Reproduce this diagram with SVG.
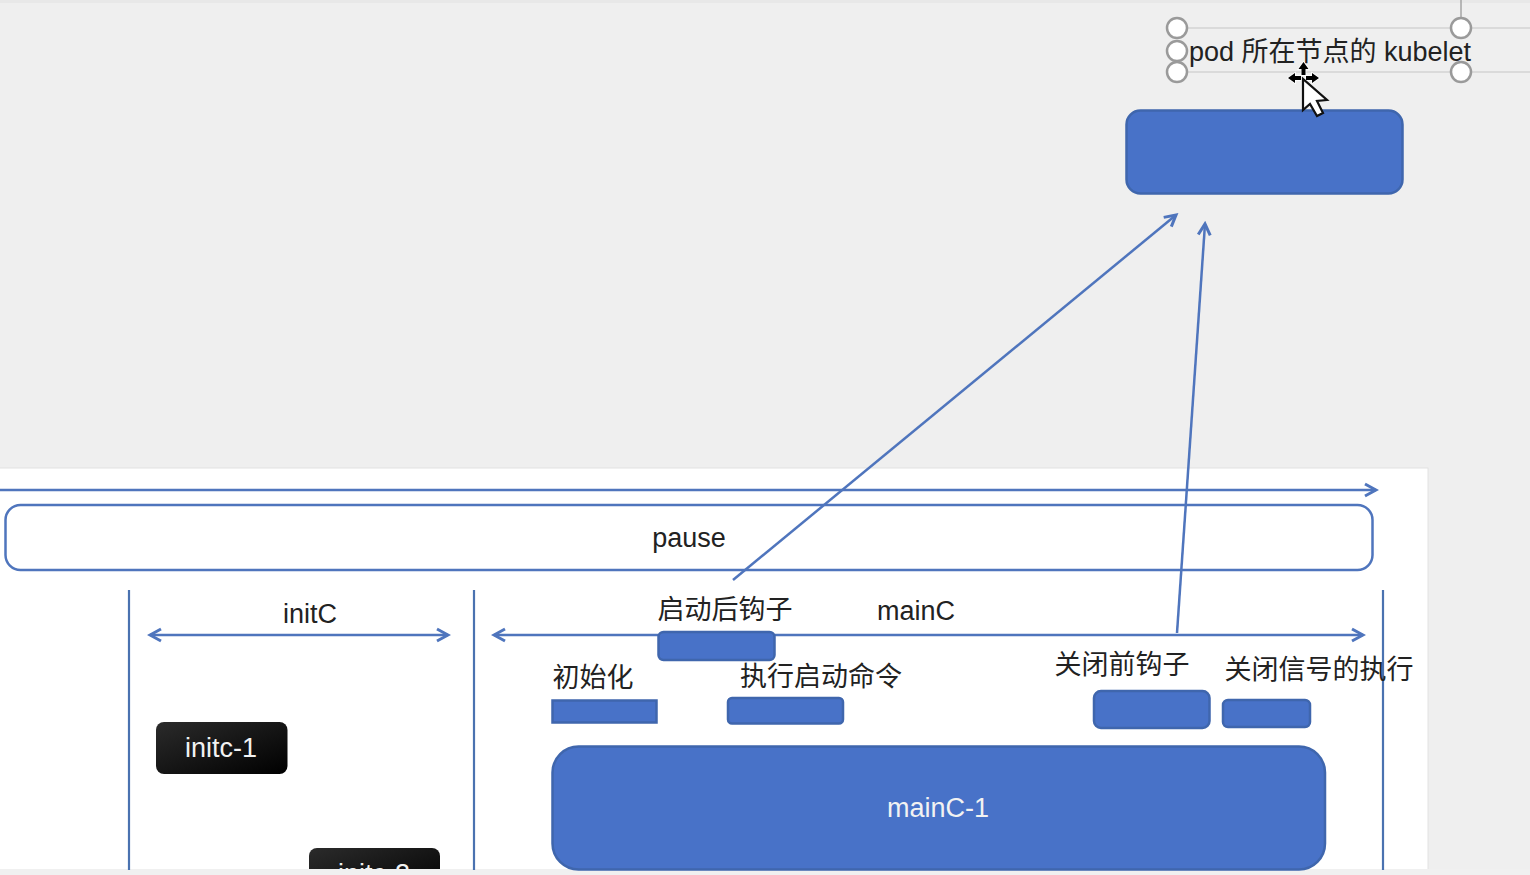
<svg xmlns="http://www.w3.org/2000/svg" width="1530" height="875" viewBox="0 0 1530 875">
<style>
text{font-family:"Liberation Sans","Noto Sans CJK SC",sans-serif;font-size:27px;fill:#222;text-anchor:middle}
.blue{fill:#4872c8;stroke:#3f66ad;stroke-width:2.500}
.ln{stroke:#4f75bd;stroke-width:2.500;fill:none}
.v{stroke:#4a72b0;stroke-width:2.200;fill:none}
.h{fill:#fff;stroke:#9a9a9a;stroke-width:2.500}
.g{stroke:#d4d4d4;stroke-width:1.300;fill:none}
.lt{fill:#f2f2f2}
</style>
<defs>
<marker id="a" markerUnits="userSpaceOnUse" markerWidth="16" markerHeight="16" refX="13" refY="7" orient="auto-start-reverse" viewBox="0 0 16 14"><path d="M2 1L13 7L2 13" fill="none" stroke="#4f75bd" stroke-width="3"/></marker>
<linearGradient id="k" x1="0" y1="0" x2="1" y2="1"><stop offset="0" stop-color="#2b2b2b"/><stop offset="1" stop-color="#000"/></linearGradient>
</defs>
<rect width="1530" height="875" fill="#efefef"/>
<rect width="1530" height="3" fill="#e8e8e8"/>
<rect x="-2" y="468" width="1430" height="402" fill="#fff" stroke="#e2e2e2"/>
<rect y="869" width="1530" height="6" fill="#f0f0f0"/>
<g id="selection">
<path class="g" d="M1177 28H1530M1177 72H1530"/>
<path d="M1461 0V28" stroke="#9a9a9a" stroke-width="1.300" fill="none"/>
<circle class="h" cx="1177" cy="28" r="10"/><circle class="h" cx="1177" cy="51" r="10"/><circle class="h" cx="1177" cy="72" r="10"/><circle class="h" cx="1461" cy="28" r="10"/><circle class="h" cx="1461" cy="72" r="10"/>
</g>
<g id="node-kubelet-label"><text x="1330" y="60.500" textLength="282" lengthAdjust="spacingAndGlyphs">pod 所在节点的 kubelet</text></g>
<g id="node-kubelet"><rect class="blue" x="1126.500" y="110.500" width="276" height="83" rx="14"/></g>
<g id="node-pause"><rect x="5.500" y="505" width="1367" height="65" rx="15" fill="#fff" stroke="#4f75bd" stroke-width="2.500"/><text x="689" y="547">pause</text></g>
<g id="connectors">
<path class="ln" d="M0 490H1376" marker-end="url(#a)"/>
<path class="ln" d="M150 635H448" marker-start="url(#a)" marker-end="url(#a)"/>
<path class="ln" d="M494 635H1363" marker-start="url(#a)" marker-end="url(#a)"/>
<path class="ln" d="M733 580L1176 215" marker-end="url(#a)"/>
<path class="ln" d="M1177 633L1205 224" marker-end="url(#a)"/>
<path class="v" d="M129 590V870M474 590V870M1383 590V870"/>
</g>
<g id="node-initc-label"><text x="310" y="623">initC</text></g>
<g id="node-mainc-label"><text x="916" y="620">mainC</text></g>
<g id="node-poststart"><rect class="blue" x="658.500" y="632" width="116" height="28" rx="5"/><text x="725" y="619">启动后钩子</text></g>
<g id="node-init"><rect class="blue" x="552.500" y="700.500" width="104" height="22"/><text x="593" y="687">初始化</text></g>
<g id="node-start"><rect class="blue" x="728" y="698" width="115" height="25.500" rx="4"/><text x="821" y="686">执行启动命令</text></g>
<g id="node-prestop"><rect class="blue" x="1094" y="691" width="115.500" height="37" rx="7"/><text x="1122" y="674">关闭前钩子</text></g>
<g id="node-signal"><rect class="blue" x="1223" y="700" width="87" height="27" rx="5"/><text x="1319" y="679">关闭信号的执行</text></g>
<g id="node-mainc1"><rect class="blue" x="552.500" y="746.500" width="772.500" height="123" rx="26"/><text class="lt" x="938" y="817">mainC-1</text></g>
<g id="node-initc1"><rect x="156" y="722" width="131.500" height="52" rx="8" fill="url(#k)"/><text class="lt" x="221" y="757">initc-1</text></g>
<g id="node-initc2"><svg x="300" y="840" width="150" height="29" viewBox="300 840 150 29"><rect x="309" y="848" width="131" height="52" rx="8" fill="url(#k)"/><text class="lt" x="374" y="883">initc-2</text></svg></g>
<g id="cursor">
<path d="M1303.500 62l5 7h-3v6h-4v-6h-3zM1288 78l7-5v3h6v4h-6v3zM1319 78l-7-5v3h-6v4h6v3z" fill="#000" stroke="#fff" stroke-width="1.500" paint-order="stroke"/>
<path d="M1303 79V110L1310 104L1317 116L1323 113L1317 101L1327 100Z" fill="#fff" stroke="#111" stroke-width="2.200"/>
</g>
</svg>
